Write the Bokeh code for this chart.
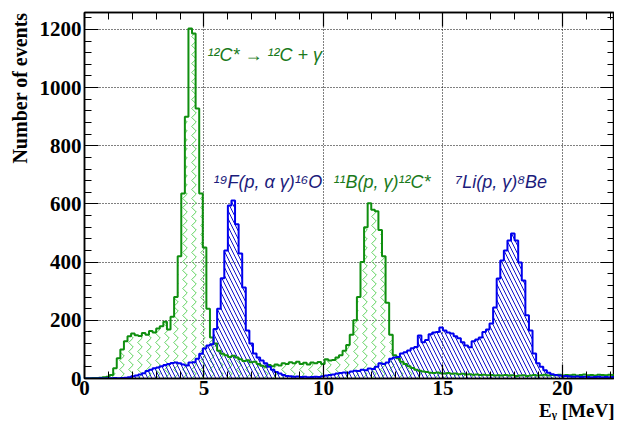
import math
from bokeh.plotting import figure
from bokeh.models import (LinearAxis, SingleIntervalTicker, Range1d, Label, Title,
                          ColumnDataSource, CustomJSTickFormatter)
from bokeh.embed import file_html
from bokeh.resources import INLINE

# ---- data: histogram bins of 0.15 MeV from 0 to 22.2 MeV ----
bin_width = 0.15
n_bins = 148

green_counts = [
    1, 1, 2, 2, 3, 4, 6, 12, 35, 70,
    100, 128, 145, 155, 149, 146, 156, 150, 163, 158,
    172, 180, 195, 168, 212, 280, 420, 636, 900, 1203,
    1186, 928, 636, 450, 240, 141, 120, 95, 85, 80,
    74, 78, 72, 66, 60, 63, 56, 58, 50, 44,
    40, 46, 42, 48, 45, 52, 50, 56, 52, 58,
    50, 54, 48, 55, 52, 57, 50, 66, 62, 64,
    72, 80, 95, 115, 150, 200, 280, 400, 520, 602,
    580, 575, 510, 420, 260, 150, 80, 70, 58, 50,
    42, 36, 30, 27, 24, 22, 20, 19, 21, 18,
    17, 19, 16, 17, 15, 16, 14, 15, 13, 14,
    12, 13, 11, 12, 10, 11, 10, 12, 10, 11,
    9, 10, 11, 9, 10, 12, 10, 11, 13, 10,
    12, 11, 13, 10, 12, 11, 13, 10, 12, 14,
    11, 12, 10, 13, 12, 11, 13, 12,
]

blue_counts = [
    0, 0, 0, 0, 1, 0, 1, 1, 2, 1,
    2, 3, 4, 8, 10, 14, 18, 26, 30, 35,
    38, 42, 46, 50, 53, 55, 52, 48, 45, 55,
    56, 68, 85, 103, 113, 118, 170, 240, 345, 440,
    595, 612, 530, 430, 313, 165, 120, 86, 72, 62,
    52, 40, 30, 22, 17, 12, 9, 8, 6, 7,
    5, 6, 4, 5, 6, 5, 8, 10, 12, 14,
    17, 19, 21, 20, 24, 27, 26, 30, 28, 34,
    33, 40, 52, 50, 55, 68, 72, 74, 86, 90,
    96, 104, 108, 148, 125, 132, 152, 158, 160, 175,
    165, 158, 155, 145, 138, 125, 113, 107, 128, 134,
    141, 160, 168, 189, 244, 344, 406, 440, 474, 498,
    474, 399, 337, 217, 165, 86, 52, 40, 28, 20,
    15, 12, 10, 8, 9, 7, 6, 7, 5, 6,
    5, 4, 5, 6, 4, 5, 4, 5,
]

labels = [
    ("¹²C* → ¹²C + γ", 5.15, 1111, "#1b7a1b"),
    ("¹⁹F(p, α γ)¹⁶O", 5.4, 674, "#1c1c7c"),
    ("¹¹B(p, γ)¹²C*", 10.42, 674, "#1b7a1b"),
    ("⁷Li(p, γ)⁸Be", 15.52, 674, "#1c1c7c"),
]

y_title = "Number of events"
x_title = "Eᵧ [MeV]"

# ---- derived columns ----
edges = [i * bin_width for i in range(n_bins + 1)]
g_step = green_counts + [green_counts[-1]]
b_step = blue_counts + [blue_counts[-1]]
src = ColumnDataSource(dict(x=edges, g=g_step, b=b_step, zero=[0] * len(edges)))

SERIF = "Liberation Serif"
SANS = "Liberation Sans"

p = figure(frame_width=530, frame_height=366, output_backend="svg", toolbar_location=None,
           x_range=Range1d(0, 22.18), y_range=Range1d(0, 1258),
           min_border_left=83, min_border_right=0, min_border_top=12, min_border_bottom=0,
           x_axis_location=None, y_axis_location=None)
p.background_fill_color = "white"
p.border_fill_color = "white"
p.outline_line_color = "black"
p.outline_line_width = 1.5

xt = SingleIntervalTicker(interval=5, num_minor_ticks=5)
yt = SingleIntervalTicker(interval=200, num_minor_ticks=5)

def style_axis(ax, show_labels):
    ax.axis_line_color = "black"
    ax.axis_line_width = 1.5
    ax.major_tick_in = 14
    ax.major_tick_out = 0
    ax.minor_tick_in = 7
    ax.minor_tick_out = 0
    ax.major_tick_line_color = "black"
    ax.minor_tick_line_color = "black"
    ax.major_tick_line_width = 1.2
    ax.minor_tick_line_width = 1
    if show_labels:
        ax.major_label_text_font = SERIF
        ax.major_label_text_font_style = "bold"
        ax.major_label_text_font_size = "21px"
        ax.major_label_text_color = "black"
    else:
        ax.formatter = CustomJSTickFormatter(code="return ''")
        ax.major_label_standoff = 0
        ax.axis_label_standoff = 0

yt_title = Title(text=y_title, align="right", text_font=SERIF, text_font_style="bold",
                 text_font_size="20px", text_color="black", standoff=12, offset=0)
xt_title = Title(text=x_title, align="right", text_font=SERIF, text_font_style="bold",
                 text_font_size="19px", text_color="black", standoff=0, offset=0)

xb = LinearAxis(ticker=xt)
style_axis(xb, True)
xb.major_label_standoff = 2
xb.axis_label_standoff = 0
p.add_layout(xb, "below")
p.add_layout(xt_title, "below")

yl = LinearAxis(ticker=yt)
style_axis(yl, True)
yl.major_label_standoff = 3
p.add_layout(yl, "left")
p.add_layout(yt_title, "left")

xa = LinearAxis(ticker=SingleIntervalTicker(interval=5, num_minor_ticks=5))
style_axis(xa, False)
p.add_layout(xa, "above")
yr = LinearAxis(ticker=SingleIntervalTicker(interval=200, num_minor_ticks=5))
style_axis(yr, False)
p.add_layout(yr, "right")

p.xgrid.ticker = xt
p.ygrid.ticker = yt
for g in (p.xgrid, p.ygrid):
    g.grid_line_color = "black"
    g.grid_line_dash = "1 2"
    g.grid_line_width = 1

p.varea_step(x="x", y1="zero", y2="g", step_mode="after", source=src,
             fill_alpha=0, hatch_pattern="vertical_wave", hatch_color="#5fd35f",
             hatch_scale=9, hatch_weight=1)
p.varea_step(x="x", y1="zero", y2="b", step_mode="after", source=src,
             fill_alpha=0, hatch_pattern="left_diagonal_line", hatch_color="#1010cc",
             hatch_scale=8, hatch_weight=1)
p.step(x="x", y="g", mode="after", source=src, line_color="#0f8f0f", line_width=2)
p.step(x="x", y="b", mode="after", source=src, line_color="#0000ee", line_width=2)

for txt, lx, ly, col in labels:
    p.add_layout(Label(x=lx, y=ly, text=txt, text_color=col, text_font=SANS,
                       text_font_style="italic", text_font_size="18px",
                       text_baseline="alphabetic", text_align="left"))

open("out.html", "w").write(file_html(p, INLINE))
